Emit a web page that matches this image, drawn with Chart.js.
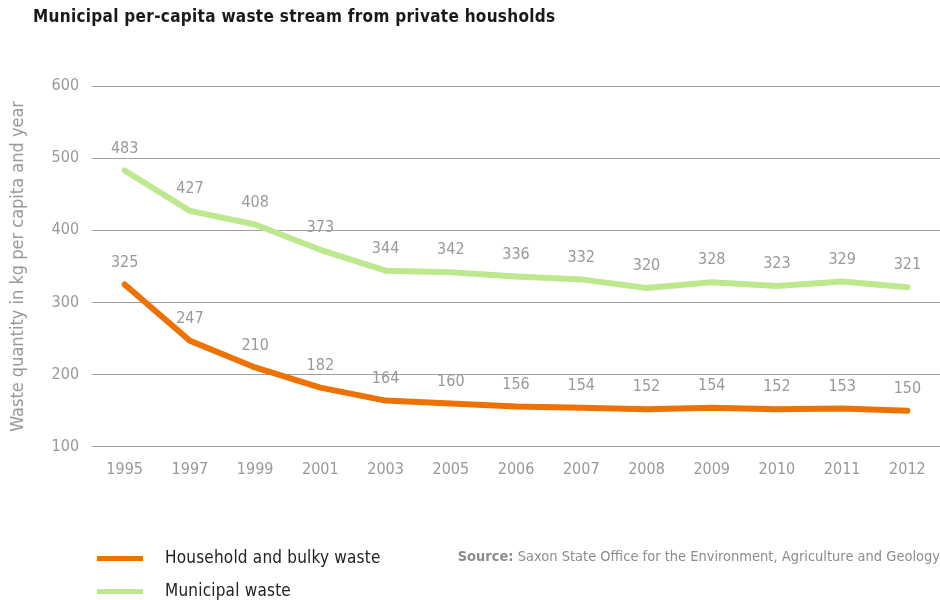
<!DOCTYPE html>
<html>
<head>
<meta charset="utf-8">
<script src="https://cdn.jsdelivr.net/npm/chart.js@4"></script>
<style>
  html, body { margin: 0; padding: 0; background: #fff; }
  #wrap { position: relative; width: 940px; height: 600px; overflow: hidden; }
  #chart { position: absolute; left: 0; top: 0; }
  .title {
    position: absolute; left: 33px; top: 6px;
    font: bold 17px "Liberation Sans Narrow", "DejaVu Sans Condensed", sans-serif;
    color: #1a1a1a; letter-spacing: 0.3px;
  }
  .legend-item {
    position: absolute; left: 97px; height: 20px;
    font: 17px "Liberation Sans Narrow", "DejaVu Sans Condensed", sans-serif; color: #222;
    letter-spacing: 0.2px;
  }
  .legend-item .swatch {
    position: absolute; left: 0; top: 9px; width: 46px; height: 5px;
  }
  .legend-item .label { position: absolute; left: 68px; top: 0; white-space: nowrap; }
  .source {
    position: absolute; right: 0; top: 548px;
    font: 14.5px "Liberation Sans Narrow", "DejaVu Sans Condensed", sans-serif; color: #8c8c8c;
    white-space: nowrap;
  }
  .source b { font-weight: bold; }
</style>
</head>
<body>
<div id="wrap">
  <canvas id="chart" width="940" height="600"></canvas>
  <div class="title">Municipal per-capita waste stream from private housholds</div>
  <div class="legend-item" style="top:547px"><div class="swatch" style="background:#ee7203"></div><span class="label">Household and bulky waste</span></div>
  <div class="legend-item" style="top:580px"><div class="swatch" style="background:#bde88e"></div><span class="label">Municipal waste</span></div>
  <div class="source"><b>Source:</b> Saxon State Office for the Environment, Agriculture and Geology</div>
</div>
<script>
const years = ['1995', '1997', '1999', '2001', '2003', '2005', '2006', '2007', '2008', '2009', '2010', '2011', '2012'];
const householdBulky = [325, 247, 210, 182, 164, 160, 156, 154, 152, 154, 152, 153, 150];
const municipal = [483, 427, 408, 373, 344, 342, 336, 332, 320, 328, 323, 329, 321];
const yTicks = [100, 200, 300, 400, 500, 600];

const FONT = '"Liberation Sans Narrow", "DejaVu Sans Condensed", sans-serif';
const GREY = '#999999';

// value labels above each point
const pointLabels = {
  id: 'pointLabels',
  afterDatasetsDraw(chart) {
    const { ctx } = chart;
    ctx.save();
    ctx.font = '16px ' + FONT;
    ctx.fillStyle = GREY;
    ctx.textAlign = 'center';
    ctx.textBaseline = 'bottom';
    chart.data.datasets.forEach((ds, i) => {
      chart.getDatasetMeta(i).data.forEach((pt, j) => {
        ctx.fillText(String(ds.data[j]), pt.x, pt.y - 14);
      });
    });
    ctx.restore();
  },
};

new Chart(document.getElementById('chart'), {
  type: 'line',
  data: {
    labels: years,
    datasets: [
      {
        label: 'Municipal waste',
        data: municipal,
        borderColor: '#bde88e',
        borderWidth: 6,
        borderCapStyle: 'round',
        borderJoinStyle: 'round',
        pointRadius: 0,
        tension: 0,
      },
      {
        label: 'Household and bulky waste',
        data: householdBulky,
        borderColor: '#ee7203',
        borderWidth: 6,
        borderCapStyle: 'round',
        borderJoinStyle: 'round',
        pointRadius: 0,
        tension: 0,
      },
    ],
  },
  options: {
    responsive: false,
    animation: false,
    layout: { padding: { top: 86, left: 8, right: 0, bottom: 116 } },
    plugins: { legend: { display: false }, tooltip: { enabled: false } },
    scales: {
      x: {
        offset: true,
        grid: { display: false },
        border: { display: false },
        ticks: { color: GREY, font: { family: FONT, size: 16 }, padding: 5, maxRotation: 0 },
      },
      y: {
        min: 100,
        max: 600,
        afterBuildTicks: (axis) => { axis.ticks = yTicks.map((v) => ({ value: v })); },
        grid: { color: '#a0a0a0', lineWidth: 1, drawTicks: false },
        border: { display: false },
        ticks: { color: GREY, font: { family: FONT, size: 16 }, padding: 13 },
        title: {
          display: true,
          text: 'Waste quantity in kg per capita and year',
          color: GREY,
          font: { family: FONT, size: 18 },
          padding: { top: 0, bottom: 9 },
        },
      },
    },
  },
  plugins: [pointLabels],
});
</script>
</body>
</html>
